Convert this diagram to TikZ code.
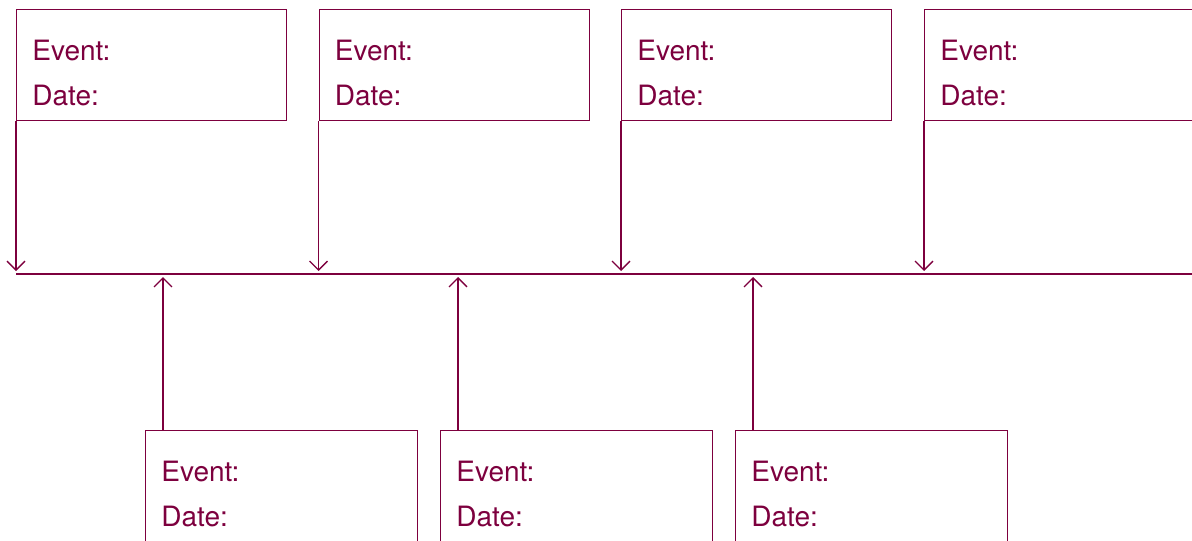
\documentclass[tikz,border=0pt]{standalone}
\usepackage{fontspec}
\setmainfont{TeX Gyre Heros}
\usepackage{xcolor}
\usetikzlibrary{arrows.meta}
\usetikzlibrary{positioning}
\definecolor{plum}{RGB}{125,0,62}
\tikzset{card/.style={draw=plum, line width=0.65pt, anchor=north west,
   minimum width=135pt, minimum height=55.5pt, inner sep=0pt},
 lowcard/.style={card, minimum width=136pt},
 info/.style={text=plum, align=left, inner sep=0pt, anchor=north west,
   font=\fontsize{14}{22.2}\selectfont},
 tick/.style={draw=plum, line width=0.65pt,
   -{Straight Barb[length=4.5pt,width=9pt]}},
 }

\begin{document}
\begin{tikzpicture}[x=0.5pt, y=-0.5pt]
        \useasboundingbox (0, 0) rectangle (1192, 540);
        \clip (0, 0) rectangle (1192, 540);

        % timeline
        \coordinate (start) at (16, 274);
        \coordinate (end) at (1192, 274);
        \draw[draw=plum, line width=0.7pt] (start) -- (end);

        % events above the line
        \node[card] (top1) at (16, 9) {};
        \node[info, below right=15.5pt and 8pt] at (top1.north west) {Event:\\Date:};
        \coordinate (hit1) at (16, 271);
        \draw[tick] (top1.south west) -- (hit1);

        \node[card] (top2) at (318.5, 9) {};
        \node[info, below right=15.5pt and 8pt] at (top2.north west) {Event:\\Date:};
        \coordinate (hit2) at (318.5, 271);
        \draw[tick] (top2.south west) -- (hit2);

        \node[card] (top3) at (621, 9) {};
        \node[info, below right=15.5pt and 8pt] at (top3.north west) {Event:\\Date:};
        \coordinate (hit3) at (621, 271);
        \draw[tick] (top3.south west) -- (hit3);

        \node[card] (top4) at (924, 9) {};
        \node[info, below right=15.5pt and 8pt] at (top4.north west) {Event:\\Date:};
        \coordinate (hit4) at (924, 271);
        \draw[tick] (top4.south west) -- (hit4);

        % events below the line
        \node[lowcard] (low1) at (145, 430) {};
        \node[info, below right=15.5pt and 8pt] at (low1.north west) {Event:\\Date:};
        \coordinate (hit5) at (163, 277);
        \draw[tick] ([xshift=9pt]low1.north west) -- (hit5);

        \node[lowcard] (low2) at (440, 430) {};
        \node[info, below right=15.5pt and 8pt] at (low2.north west) {Event:\\Date:};
        \coordinate (hit6) at (458, 277);
        \draw[tick] ([xshift=9pt]low2.north west) -- (hit6);

        \node[lowcard] (low3) at (735, 430) {};
        \node[info, below right=15.5pt and 8pt] at (low3.north west) {Event:\\Date:};
        \coordinate (hit7) at (753, 277);
        \draw[tick] ([xshift=9pt]low3.north west) -- (hit7);
    \end{tikzpicture}
\end{document}
